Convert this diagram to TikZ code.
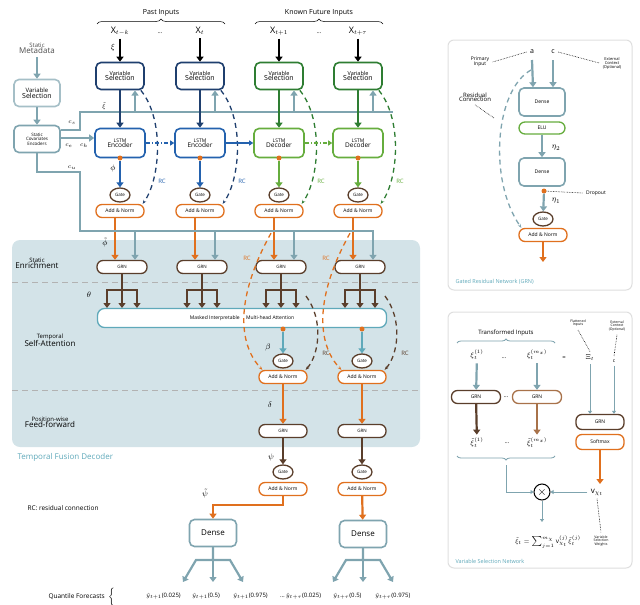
\documentclass[tikz,border=0pt]{standalone}
\usepackage{fontspec}
\setmainfont{Open Sans}
\usetikzlibrary{arrows.meta,decorations.pathreplacing,calc,shapes.geometric}
\definecolor{navy}{HTML}{1F3F6E}
\definecolor{eblue}{HTML}{2462AE}
\definecolor{dgreen}{HTML}{2E7D32}
\definecolor{lgreen}{HTML}{66AD3E}
\definecolor{orng}{HTML}{E0701E}
\definecolor{brwn}{HTML}{5A3E2B}
\definecolor{lbrwn}{HTML}{A8724A}
\definecolor{tgrey}{HTML}{7FA4AF}
\definecolor{regionfill}{HTML}{D3E3E8}
\definecolor{tealtxt}{HTML}{5FA9BA}
\begin{document}
\begin{tikzpicture}[x=1pt,y=-1pt,
  fs/.style={font=\fontsize{#1}{#1}\selectfont},
  box/.style={draw=#1,line width=1.6pt,fill=white,rounded corners=5pt,align=center,
    minimum width=48pt,minimum height=27pt,inner sep=1pt},
  pill/.style={draw=#1,line width=1.3pt,fill=white,rounded corners=6pt,align=center,
    minimum width=48pt,minimum height=13pt,inner sep=1pt,fs=5},
  gate/.style={draw=brwn,line width=1.3pt,fill=white,ellipse,inner sep=0.3pt,fs=4.5,
    minimum width=20pt,minimum height=14pt},
  arr/.style={draw=#1,line width=2.2pt,-{Triangle[length=5pt,width=7pt]}},
  thin/.style={draw=#1,line width=1pt,-{Triangle[length=3pt,width=4pt]}},
  rc/.style={draw=#1,line width=1.3pt,dash pattern=on 5pt off 4pt,-{Stealth[length=4pt]}},
  dot/.style={circle,fill=orng,inner sep=0pt,minimum size=5pt},
  note/.style={draw=black,densely dotted,line width=0.6pt},
  brc/.style={decorate,decoration={brace,amplitude=#1}},
  qf/.style={fs=6,anchor=west,inner sep=0pt}]
\useasboundingbox (0,0) rectangle (640,605);

% ---------- shaded decoder region
\fill[regionfill,rounded corners=8pt] (12,240) rectangle (420,447);
\draw[gray!60,dash pattern=on 6pt off 4pt] (12,282) -- (420,282);
\draw[gray!60,dash pattern=on 6pt off 4pt] (12,390) -- (420,390);
\node[fs=8,text=tealtxt,anchor=west] (tfd) at (14,457) {Temporal Fusion Decoder};
\node[fs=6,align=center] (lse) at (37,263) {Static\\[-1pt]{\fontsize{8}{8}\selectfont Enrichment}};
\node[fs=6,align=center] (lsa) at (50,340) {Temporal\\[-1pt]{\fontsize{8}{8}\selectfont Self-Attention}};
\node[fs=6,align=center] (lpf) at (50,422) {Position-wise\\[-1pt]{\fontsize{8}{8}\selectfont Feed-forward}};
\node[fs=6.5,anchor=west] (lrc) at (24,508) {RC: residual connection};

% ---------- input braces
\draw[brc=5pt,line width=0.5pt]
  (97,24) -- (225,24) node[midway,above=4pt,fs=7] (pin) {Past Inputs};
\draw[brc=5pt,line width=0.5pt]
  (255,24) -- (383,24) node[midway,above=4pt,fs=7] (fin) {Known Future Inputs};
\node[fs=6] (dots1) at (160,33) {\dots};
\node[fs=6] (dots2) at (319,33) {\dots};

% ---------- static branch
\node[fs=6,align=center,text=black!70] (smeta) at (37,48) {Static\\[-1pt]{\fontsize{8}{8}\selectfont Metadata}};
\node[box=tgrey!70,fs=6,minimum width=46pt] (svs) at (37,93) {Variable\\{\fontsize{7}{7}\selectfont Selection}};
\node[box=tgrey,fs=4.5,minimum width=46pt] (senc) at (37,139) {Static\\Covariates\\Encoders};
\draw[arr=tgrey] (smeta) -- (svs);
\draw[arr=tgrey] (svs) -- (senc);

\coordinate (cs0) at (80,112);
\coordinate (cs1) at (393,112);
\draw[tgrey,line width=2.2pt] (senc.east |- 0,130) -- (80,130) -- (cs0) -- (cs1);
\node[fs=6] (lcs) at (72,123) {$c_s$};
\node[fs=6] (lce) at (69,146) {$c_e$};
\node[fs=6] (lch) at (84,146) {$c_h$};
\node[fs=6] (lcu) at (72,168) {$c_u$};

% ---------- columns
\foreach \i/\x/\vc/\lc/\lab/\kind in {1/120/navy/eblue/{t-k}/Encoder,2/200/navy/eblue/t/Encoder,
   3/279/dgreen/lgreen/{t+1}/Decoder,4/358/dgreen/lgreen/{t+\tau}/Decoder}{
  \node[fs=9] (x\i) at (\x,31) {$\mathrm{X}_{\lab}$};
  \node[box=\vc,fs=5.5] (vs\i) at (\x,76) {Variable\\{\fontsize{7}{7}\selectfont Selection}};
  \node[box=\lc,fs=5,minimum width=50pt,minimum height=29pt] (ls\i) at (\x,143) {LSTM\\{\fontsize{6.5}{6.5}\selectfont \kind}};
  \node[dot] (ld\i) at (\x,158) {};
  \node[gate] (g\i) at (\x,195) {Gate};
  \node[pill=orng] (an\i) at (\x,211) {Add \& Norm};
  \node[pill=brwn,minimum width=50pt] (grn\i) at (\x+2,267) {\fontsize{4.5}{4.5}\selectfont GRN};
  \draw[arr=black,line width=1.3pt] (x\i) -- (vs\i);
  \draw[arr=\vc,line width=2.6pt] (vs\i) -- (ls\i);
  \draw[arr=tgrey] (\x+15,112) -- (\x+15,90.5);
  \draw[arr=\lc] (ld\i) -- (g\i);
  \draw[arr=orng] ($(an\i.south)+(-5,0)$) -- ($(grn\i.north)+(-7,0)$);
  \draw[arr=tgrey] (\x+15,231) -- ($(grn\i.north)+(13,0)$);
  % branches to attention
  \draw[brwn,line width=2.2pt] (grn\i) -- (\x+2,290) (\x-13,290) -- (\x+17,290);
  \foreach \d in {-15,0,15}{\draw[arr=brwn] (\x+2+\d,289) -- (\x+2+\d,308);}
  \draw[rc=\vc] ($(vs\i.south east)+(-4,0)$) .. controls (\x+45,120) and (\x+40,180) .. ($(an\i.north east)+(-2,0)$);
  \node[fs=6,text=\lc] (rc\i) at (\x+42,181) {RC};
}
\node[fs=8] (lxi) at (113,47) {$\xi$};
\node[fs=6] (lxit) at (104,106) {$\tilde\xi$};
\node[fs=8] (lphi) at (113,168) {$\phi$};
\node[fs=8] (lphit) at (105,243) {$\tilde\phi$};
\node[fs=8] (ltheta) at (89,295) {$\theta$};

% static contexts into LSTM and enrichment
\draw[arr=tgrey] (senc.east |- 0,138) -- (ls1.west |- 0,138);
\draw[tgrey,line width=2.2pt] (senc.south) -- (37,172) -- (80,172) -- (80,231) -- (374,231);
% LSTM chain
\draw[eblue,line width=1.1pt,dash pattern=on 4pt off 2pt on 1pt off 2pt,-{Triangle[length=4pt,width=5pt]}] (ls1) -- (ls2);
\draw[eblue,line width=1.1pt,-{Triangle[length=4pt,width=5pt]}] (ls2) -- (ls3);
\draw[lgreen,line width=1.1pt,dash pattern=on 4pt off 2pt on 1pt off 2pt,-{Triangle[length=4pt,width=5pt]}] (ls3) -- (ls4);

% ---------- attention
\node[draw=tealtxt,line width=1.3pt,fill=white,rounded corners=7pt,minimum width=289pt,
  minimum height=19pt,fs=5] (mha) at (242,318) {Masked Interpretable \quad Multi-head Attention};
\foreach \i/\x in {3/279,4/358}{
  \node[dot] (ad\i) at (\x+4,329) {};
  \node[gate] (ag\i) at (\x+4,361) {Gate};
  \node[pill=orng] (aan\i) at (\x+4,377) {Add \& Norm};
  \node[pill=brwn] (pg\i) at (\x+4,431) {\fontsize{4.5}{4.5}\selectfont GRN};
  \node[gate] (fg\i) at (\x+4,472) {Gate};
  \node[pill=orng] (fan\i) at (\x+4,489) {Add \& Norm};
  \draw[arr=tealtxt] (ad\i) -- (ag\i);
  \draw[arr=orng] (aan\i) -- (pg\i);
  \draw[arr=brwn] (pg\i) -- (fg\i);
  \draw[rc=orng] ($(an\i.south)+(-8,15)$) .. controls (\x-45,300) and (\x-40,345) .. ($(aan\i.north west)+(4,0)$);
  \node[fs=6,text=orng] (orc\i) at (\x-32,258) {RC};
  \draw[rc=brwn] (\x+27,296) .. controls (\x+45,320) and (\x+40,355) .. ($(aan\i.north east)+(-2,0)$);
  \node[fs=6,text=brwn] (brc\i) at (\x+47,353) {RC};
}
\node[fs=8] (lbeta) at (268,347) {$\beta$};
\node[fs=8] (ldelta) at (270,405) {$\delta$};
\node[fs=8] (lpsi) at (271,457) {$\psi$};
\node[fs=8] (lpsit) at (205,494) {$\tilde\psi$};

% ---------- outputs
\node[box=tgrey,fs=8,minimum width=47pt] (den1) at (213,533) {Dense};
\node[box=tgrey,fs=8,minimum width=47pt] (den2) at (363,534) {Dense};
\draw[arr=orng] (fan3.south) -- (283,505) -- (213,505) -- (den1.north);
\draw[arr=orng] (fan4) -- (den2);
\foreach \n/\x in {1/213,2/363}{
  \coordinate (qa\n) at (\x-30,582);
  \coordinate (qb\n) at (\x,582);
  \coordinate (qc\n) at (\x+30,582);
  \draw[arr=tgrey] (den\n.south) -- (\x,560) -- (\x-17,560) -- (qa\n);
  \draw[arr=tgrey] (den\n.south) -- (qb\n);
  \draw[arr=tgrey] (\x,560) -- (\x+17,560) -- (qc\n);
}
\node[fs=6.5,anchor=west] (lqf) at (45,597) {Quantile Forecasts \ $\left\{\rule{0pt}{9pt}\right.$};
\node[qf] (q1) at (146,596) {$\hat{y}_{t+1}$(0.025)};
\node[qf] (q2) at (192,596) {$\hat{y}_{t+1}$(0.5)};
\node[qf] (q3) at (233,596) {$\hat{y}_{t+1}$(0.975)};
\node[qf] (q4) at (280,596) {\dots\,$\hat{y}_{t+\tau}$(0.025)};
\node[qf] (q5) at (333,596) {$\hat{y}_{t+\tau}$(0.5)};
\node[qf] (q6) at (375,596) {$\hat{y}_{t+\tau}$(0.975)};

% ---------- GRN panel
\draw[gray!25,line width=1pt,rounded corners=6pt,fill=white] (448,40) rectangle (632,290);
\node[fs=5.5,text=tealtxt,anchor=west] (lgrn) at (452,282) {Gated Residual Network (GRN)};
\node[fs=7] (ga) at (532,52) {a};
\node[fs=7] (gc) at (553,52) {c};
\node[fs=5,align=center] (lpi) at (480,62) {Primary\\Input};
\node[fs=4,align=center] (lec) at (612,63) {External\\Context\\(Optional)};
\node[box=tgrey,fs=5,minimum width=46pt,minimum height=28pt] (gd1) at (542,102) {Dense};
\node[pill=lgreen,minimum width=46pt,minimum height=12pt] (gelu) at (542,128) {ELU};
\node[box=tgrey,fs=5,minimum width=46pt,minimum height=28pt] (gd2) at (542,172) {Dense};
\node[dot] (gdot) at (544,191) {};
\node[gate] (ggate) at (543,219) {Gate};
\node[pill=orng] (gan) at (543,235) {Add \& Norm};
\coordinate (gout) at (543,262);
\node[fs=5] (ldrop) at (596,193) {Dropout};
\node[fs=6,align=center] (lres) at (475,97) {Residual\\[-2pt]Connection};
\node[fs=8] (leta2) at (556,148) {$\eta_2$};
\node[fs=8] (leta1) at (556,201) {$\eta_1$};
\draw[arr=tgrey] (ga) ++(0,8) -- ($(gd1.north)+(-9,0)$);
\draw[arr=tgrey] (gc) ++(0,8) -- ($(gd1.north)+(11,0)$);
\draw[arr=tgrey] (gelu) -- (gd2);
\draw[arr=tgrey] (gdot) -- (ggate);
\draw[arr=orng] (gan) -- (gout);
\draw[rc=tgrey] (531,70) .. controls (495,90) and (488,180) .. ($(gan.north west)+(3,0)$);
\draw[note] (ga.west) -- (lpi.east);
\draw[note] (gc.east) -- (lec.west);
\draw[note] (gdot) -- (ldrop.west);
\draw[note] (lres.south) -- (494,118);

% ---------- VSN panel
\draw[gray!25,line width=1pt,rounded corners=6pt,fill=white] (448,312) rectangle (632,568);
\node[fs=5.5,text=tealtxt,anchor=west] (lvsn) at (452,561) {Variable Selection Network};
\draw[brc=4pt,line width=0.8pt,tgrey]
  (457,343) -- (555,343) node[midway,above=3pt,fs=6,text=black] (ltin) {Transformed Inputs};
\node[fs=7] (xi1) at (477,355) {$\xi_t^{(1)}$};
\node[fs=6] (vd1) at (504,358) {\dots};
\node[fs=7] (xim) at (537,355) {$\xi_t^{(m_x)}$};
\node[fs=6] (veq) at (564,358) {=};
\node[fs=7] (vXi) at (590,358) {$\Xi_t$};
\node[fs=5] (vc) at (614,361) {c};
\node[fs=3.5,align=center] (lfl) at (578,323) {Flattened\\Inputs};
\node[fs=3.5,align=center] (lvec) at (617,326) {External\\Context\\(Optional)};
\node[pill=brwn,minimum width=49pt] (vg1) at (476,397) {GRN};
\node[pill=lbrwn,minimum width=49pt] (vg2) at (537,397) {GRN};
\node[fs=6] (vd2) at (506,397) {\dots};
\node[fs=7] (xt1) at (477,443) {$\tilde\xi_t^{(1)}$};
\node[fs=6] (vd3) at (507,443) {\dots};
\node[fs=7] (xtm) at (537,443) {$\tilde\xi_t^{(m_x)}$};
\node[pill=brwn,minimum width=48pt,minimum height=15pt] (vgr) at (600,422) {GRN};
\node[pill=orng,minimum width=48pt,minimum height=15pt] (vsm) at (600,442) {Softmax};
\node[circle,draw,line width=1pt,inner sep=0pt,minimum size=16pt,fs=12] (vx) at (542,492) {$\times$};
\node[fs=8] (vv) at (597,492) {$\mathrm{v}_{\chi_t}$};
\node[fs=6.5] (vf) at (548,542) {$\tilde\xi_t=\sum_{j=1}^{m_\chi}\mathrm{v}_{\chi_t}^{(j)}\tilde\xi_t^{(j)}$};
\node[fs=3.5,align=center] (lvsw) at (601,541) {Variable\\Selection\\Weights};
\draw[arr=tgrey] (xi1) -- (vg1);
\draw[arr=tgrey] (xim) -- (vg2);
\draw[arr=brwn] (vg1) -- (xt1);
\draw[arr=lbrwn] (vg2) -- (xtm);
\draw[thin=tgrey] (vXi) -- (vXi |- vgr.north);
\draw[thin=tgrey] (vc) -- (vc |- vgr.north);
\draw[arr=orng,line width=2.6pt] (vsm) -- (600,484);
\draw[brc=4pt,line width=0.8pt,tgrey] (555,456) -- (457,456);
\draw[thin=tgrey] (506,465) -- (506,492) -- (vx.west);
\draw[thin=tgrey] (vv) -- (vx);
\draw[thin=tgrey] (vx) -- (542,522);
\draw[note] (lfl.south) -- (vXi.north);
\draw[note] (lvec.south) -- (vc.north);
\draw[note] (vv.south) -- (lvsw.north);
\end{tikzpicture}
\end{document}
